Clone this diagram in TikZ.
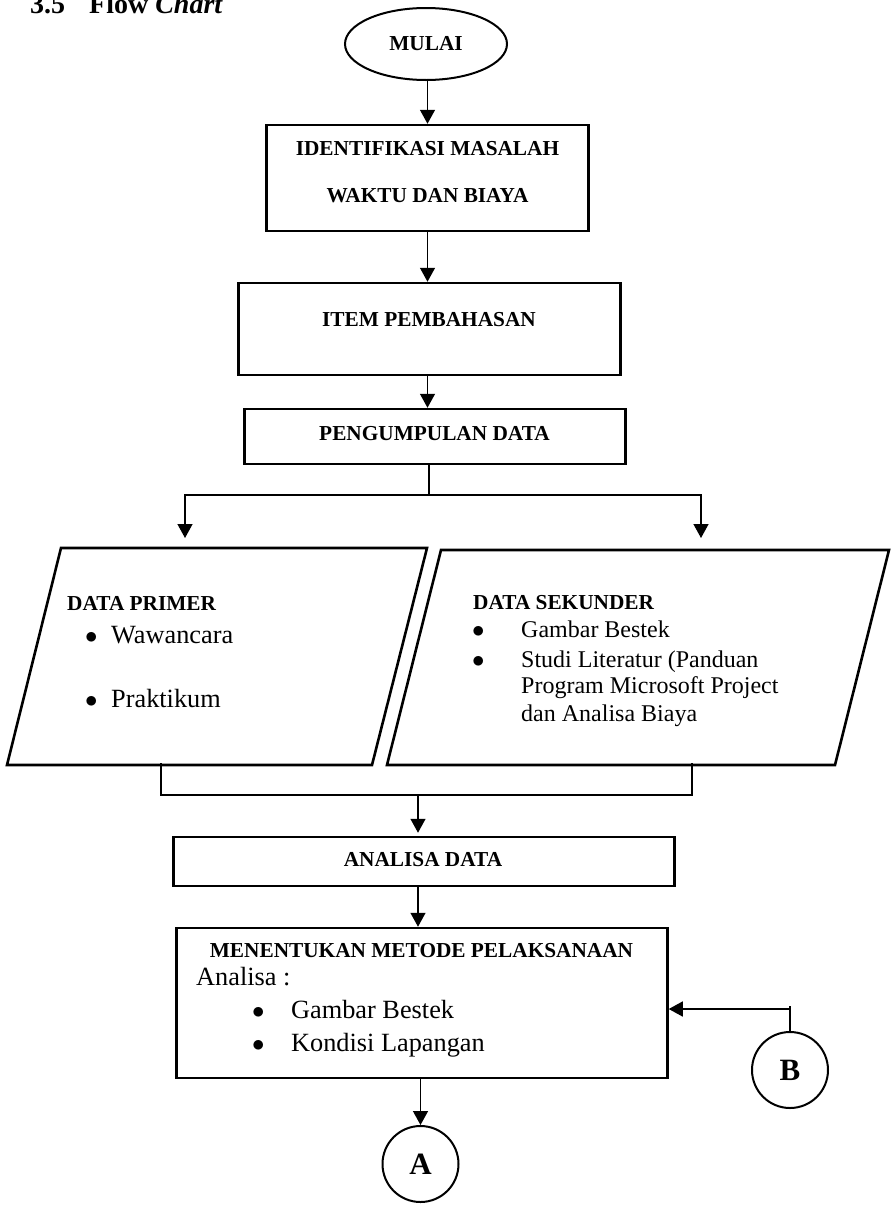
\documentclass[tikz,border=0pt]{standalone}
\usepackage{fontspec}
\setmainfont{Liberation Serif}
\usetikzlibrary{arrows.meta,shapes.geometric}

\newcommand{\butir}{\raisebox{-0.5pt}{$\bullet$}}

\begin{document}
\begin{tikzpicture}[x=1pt,y=-1pt,
    box/.style={draw, line width=2.5pt, rectangle, inner sep=0pt},
    terminal/.style={draw, line width=2pt, ellipse, inner sep=0pt},
    konektor/.style={draw, line width=2pt, circle, inner sep=0pt, minimum size=76pt, font=\bfseries\fontsize{31pt}{31pt}\selectfont},
    judul/.style={font=\bfseries\fontsize{21.3pt}{24pt}\selectfont, inner sep=0pt},
    isi/.style={font=\fontsize{26.3pt}{30pt}\selectfont, inner sep=0pt},
    isikecil/.style={font=\fontsize{24pt}{28pt}\selectfont, inner sep=0pt},
    garis/.style={line width=1.4pt},
    panah/.style={line width=1.4pt, -{Triangle[length=14pt,width=15pt]}}]
    \useasboundingbox (0,0) rectangle (891,1205);

    % Judul bagian
    \node[font=\bfseries\fontsize{28pt}{30pt}\selectfont, inner sep=0pt, anchor=base west] (nomor) at (30,13) {3.5};
    \node[font=\bfseries\fontsize{28pt}{30pt}\selectfont, inner sep=0pt, anchor=base west] (judulbab) at (89,13) {Flow \textit{Chart}};

    % Mulai
    \node[terminal, judul, minimum width=162pt, minimum height=72pt] (mulai) at (426,44) {MULAI};

    % Kotak proses
    \node[box, minimum width=322pt, minimum height=106pt] (ident) at (427.5,178) {};
    \node[judul, anchor=base] (identa) at (427.5,155) {IDENTIFIKASI MASALAH};
    \node[judul, anchor=base] (identb) at (427.5,202) {WAKTU DAN BIAYA};

    \node[box, minimum width=382pt, minimum height=92pt] (item) at (429.5,329) {};
    \node[judul, anchor=base] (itemteks) at (429,326) {ITEM PEMBAHASAN};

    \node[box, minimum width=381pt, minimum height=55pt] (peng) at (435,436.5) {};
    \node[judul, anchor=base] (pengteks) at (434.5,440) {PENGUMPULAN DATA};

    \draw[panah] (mulai.south -| ident.north) -- (ident.north);
    \draw[panah] (ident.south) -- (ident.south |- item.north);
    \draw[panah] (item.south -| ident.south) -- (ident.south |- peng.north);

    % Data primer dan sekunder
    \coordinate (pa) at (61,548);
    \coordinate (pb) at (427,548);
    \coordinate (pc) at (372,765);
    \coordinate (pd) at (7,765);
    \coordinate (sa) at (441,550);
    \coordinate (sb) at (889,550);
    \coordinate (sc) at (835,765);
    \coordinate (sd) at (387,765);
    \draw[line width=2.6pt] (pa) -- (pb) -- (pc) -- (pd) -- cycle;
    \draw[line width=2.6pt] (sa) -- (sb) -- (sc) -- (sd) -- cycle;

    \node[judul, anchor=base west] (primer) at (67,610) {DATA PRIMER};
    \node[isi, anchor=base west] (primer1) at (85,643) {\makebox[26pt][l]{\butir}Wawancara};
    \node[isi, anchor=base west] (primer2) at (85,707) {\makebox[26pt][l]{\butir}Praktikum};

    \node[judul, anchor=base west] (sekunder) at (473,609) {DATA SEKUNDER};
    \node[isikecil, anchor=base west] (sekunder1) at (472,637) {\makebox[49pt][l]{\butir}Gambar Bestek};
    \node[isikecil, anchor=base west] (sekunder2) at (472,667) {\makebox[49pt][l]{\butir}Studi Literatur (Panduan};
    \node[isikecil, anchor=base west] (sekunder3) at (521,693) {Program Microsoft Project};
    \node[isikecil, anchor=base west] (sekunder4) at (521,721) {dan Analisa Biaya};

    % Percabangan
    \coordinate (cabang) at (429,495);
    \coordinate (primmasuk) at (185,548);
    \coordinate (sekmasuk) at (701,550);
    \draw[garis] (peng.south -| cabang) -- (cabang);
    \draw[panah, shorten >=10pt] (cabang) -| (primmasuk);
    \draw[panah, shorten >=12pt] (cabang) -| (sekmasuk);

    % Penggabungan
    \coordinate (primkeluar) at (161,763);
    \coordinate (sekkeluar) at (692,763);
    \coordinate (gabung) at (418,795);
    \draw[garis] (primkeluar) -- (primkeluar |- gabung) -- (sekkeluar |- gabung) -- (sekkeluar);

    \node[box, minimum width=501pt, minimum height=49pt] (analisa) at (424,861.5) {};
    \node[judul, anchor=base] (analisateks) at (423,866) {ANALISA DATA};
    \draw[panah, shorten >=3pt] (gabung) -- (gabung |- analisa.north);

    \node[box, minimum width=491pt, minimum height=150pt] (metode) at (422,1003) {};
    \node[judul, anchor=base] (metodeteks) at (421.5,957) {MENENTUKAN METODE PELAKSANAAN};
    \node[isi, anchor=base west] (metode0) at (196,985) {Analisa :};
    \node[isi, anchor=base west] (metode1) at (252,1018) {\makebox[39pt][l]{\butir}Gambar Bestek};
    \node[isi, anchor=base west] (metode2) at (252,1051) {\makebox[39pt][l]{\butir}Kondisi Lapangan};
    \draw[panah] (analisa.south -| gabung) -- (gabung |- metode.north);

    % Konektor
    \node[konektor] (a) at (420.5,1164) {A};
    \node[konektor] (b) at (790,1070) {B};
    \coordinate (belok) at (790,1009);
    \draw[panah] (metode.south -| a) -- (a.north);
    \draw[garis] (b.north) -- ([yshift=3pt]belok);
    \draw[panah] (belok) -- (belok -| metode.east);
\end{tikzpicture}
\end{document}
